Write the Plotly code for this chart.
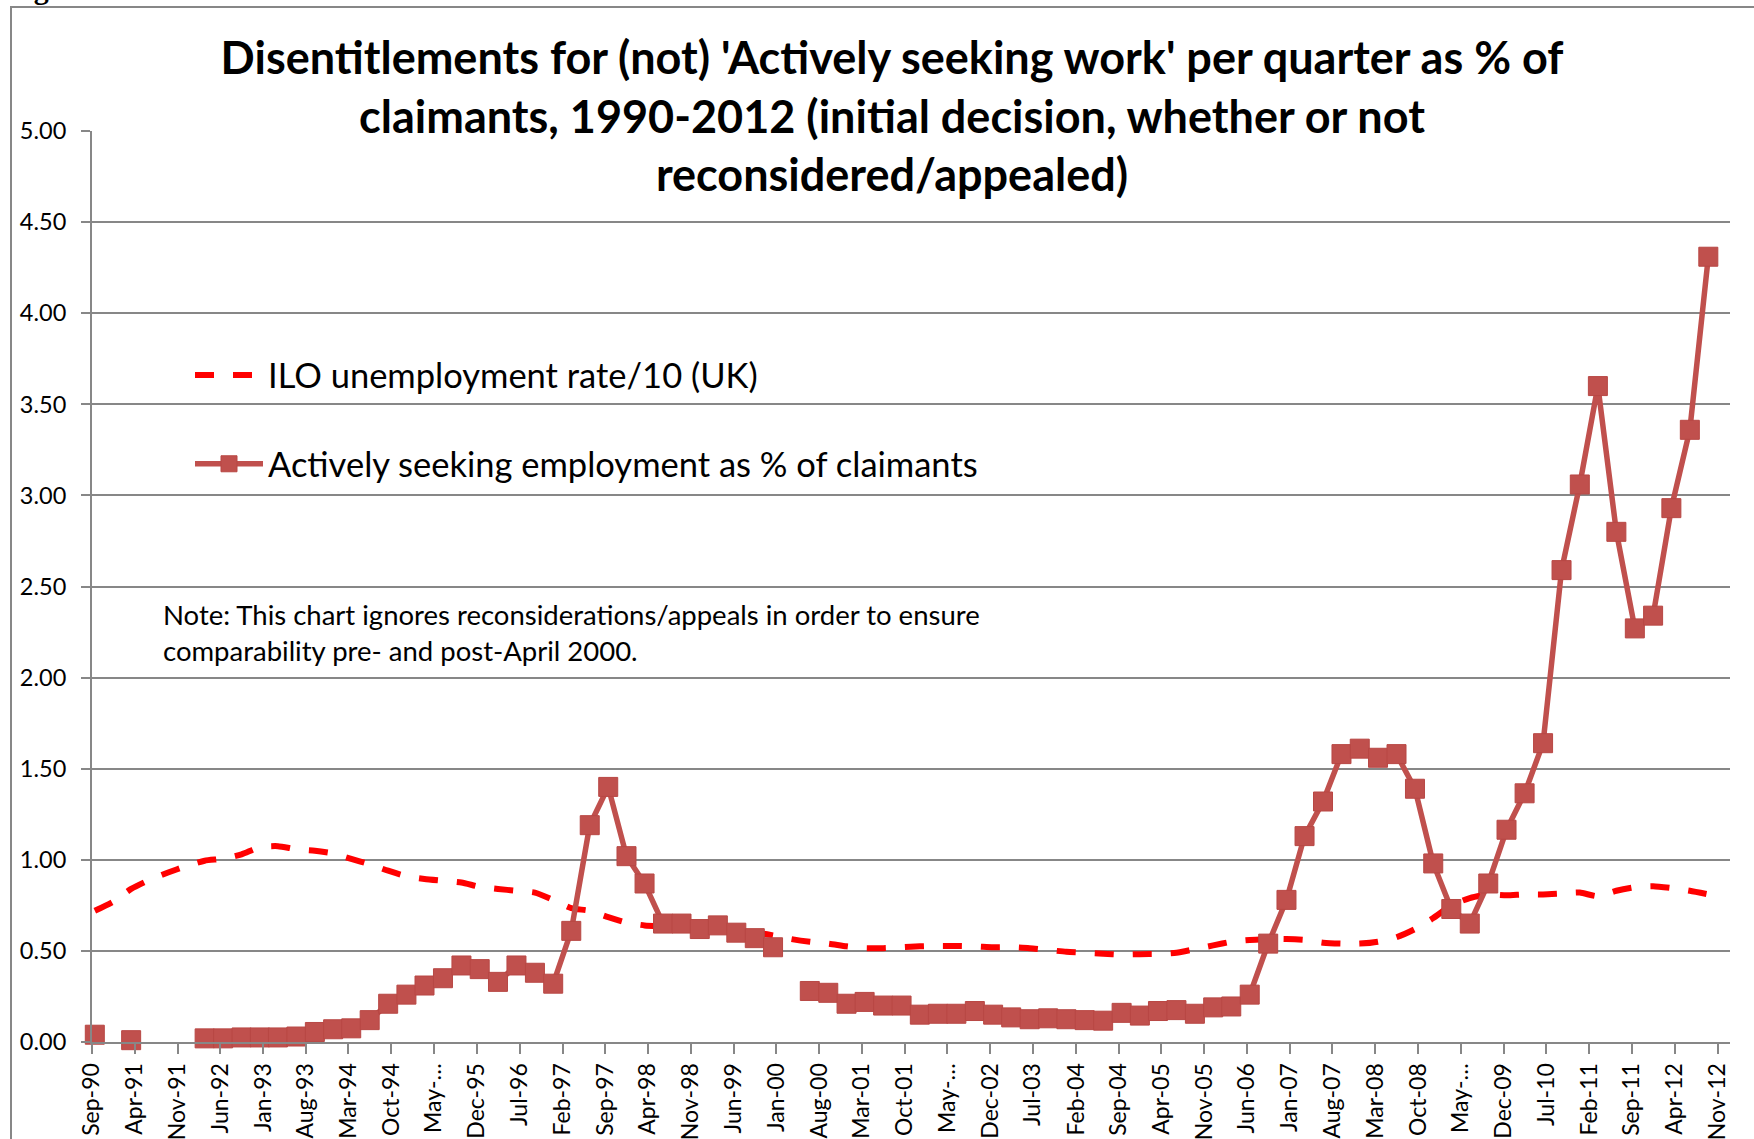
import plotly.graph_objects as go
import pandas as pd

# Quarterly observation months (Sep-1990 .. Sep-2012)
quarters = [
    "1990-09", "1990-12",
    "1991-03", "1991-06", "1991-09", "1991-12",
    "1992-03", "1992-06", "1992-09", "1992-12",
    "1993-03", "1993-06", "1993-09", "1993-12",
    "1994-03", "1994-06", "1994-09", "1994-12",
    "1995-03", "1995-06", "1995-09", "1995-12",
    "1996-03", "1996-06", "1996-09", "1996-12",
    "1997-03", "1997-06", "1997-09", "1997-12",
    "1998-03", "1998-06", "1998-09", "1998-12",
    "1999-03", "1999-06", "1999-09", "1999-12",
    "2000-03", "2000-06", "2000-09", "2000-12",
    "2001-03", "2001-06", "2001-09", "2001-12",
    "2002-03", "2002-06", "2002-09", "2002-12",
    "2003-03", "2003-06", "2003-09", "2003-12",
    "2004-03", "2004-06", "2004-09", "2004-12",
    "2005-03", "2005-06", "2005-09", "2005-12",
    "2006-03", "2006-06", "2006-09", "2006-12",
    "2007-03", "2007-06", "2007-09", "2007-12",
    "2008-03", "2008-06", "2008-09", "2008-12",
    "2009-03", "2009-06", "2009-09", "2009-12",
    "2010-03", "2010-06", "2010-09", "2010-12",
    "2011-03", "2011-06", "2011-09", "2011-12",
    "2012-03", "2012-06", "2012-09",
]

# Actively seeking employment disentitlements as % of claimants
actively_seeking = [
    0.04, None,
    0.01, None, None, None,
    0.02, 0.02, 0.025, 0.025,
    0.025, 0.03, 0.055, 0.07,
    0.075, 0.12, 0.21, 0.26,
    0.31, 0.35, 0.42, 0.40,
    0.33, 0.42, 0.38, 0.32,
    0.61, 1.19, 1.40, 1.02,
    0.87, 0.65, 0.65, 0.62,
    0.64, 0.60, 0.57, 0.52,
    None, 0.28, 0.27, 0.21,
    0.22, 0.20, 0.20, 0.15,
    0.155, 0.155, 0.17, 0.15,
    0.135, 0.125, 0.13, 0.125,
    0.12, 0.117, 0.16, 0.145,
    0.17, 0.175, 0.155, 0.19,
    0.195, 0.26, 0.54, 0.78,
    1.13, 1.32, 1.58, 1.61,
    1.56, 1.58, 1.39, 0.98,
    0.73, 0.65, 0.87, 1.165,
    1.365, 1.64, 2.59, 3.06,
    3.60, 2.80, 2.27, 2.34,
    2.93, 3.36, 4.31,
]

# ILO unemployment rate / 10 (UK)
ilo_rate_div10 = [
    0.72, 0.77,
    0.84, 0.89, 0.93, 0.966,
    0.995, 1.006, 1.03, 1.07,
    1.075, 1.058, 1.05, 1.035,
    1.005, 0.975, 0.94, 0.91,
    0.895, 0.885, 0.875, 0.852,
    0.84, 0.83, 0.82, 0.78,
    0.735, 0.72, 0.685, 0.655,
    0.64, 0.635, 0.63, 0.625,
    0.62, 0.61, 0.60, 0.585,
    0.565, 0.55, 0.54, 0.525,
    0.515, 0.515, 0.52, 0.525,
    0.527, 0.527, 0.525, 0.52,
    0.52, 0.515, 0.505, 0.495,
    0.49, 0.485, 0.48, 0.482,
    0.483, 0.49, 0.51, 0.53,
    0.55, 0.56, 0.565, 0.565,
    0.56, 0.545, 0.54, 0.54,
    0.55, 0.575, 0.62, 0.68,
    0.75, 0.79, 0.81, 0.805,
    0.81, 0.81, 0.815, 0.82,
    0.80, 0.83, 0.85, 0.855,
    0.845, 0.83, 0.81,
]

tick_dates = [
    "1990-09-01", "1991-04-01", "1991-11-01", "1992-06-01", "1993-01-01",
    "1993-08-01", "1994-03-01", "1994-10-01", "1995-05-01", "1995-12-01",
    "1996-07-01", "1997-02-01", "1997-09-01", "1998-04-01", "1998-11-01",
    "1999-06-01", "2000-01-01", "2000-08-01", "2001-03-01", "2001-10-01",
    "2002-05-01", "2002-12-01", "2003-07-01", "2004-02-01", "2004-09-01",
    "2005-04-01", "2005-11-01", "2006-06-01", "2007-01-01", "2007-08-01",
    "2008-03-01", "2008-10-01", "2009-05-01", "2009-12-01", "2010-07-01",
    "2011-02-01", "2011-09-01", "2012-04-01", "2012-11-01",
]
tick_labels = [
    "Sep-90", "Apr-91", "Nov-91", "Jun-92", "Jan-93",
    "Aug-93", "Mar-94", "Oct-94", "May-…", "Dec-95",
    "Jul-96", "Feb-97", "Sep-97", "Apr-98", "Nov-98",
    "Jun-99", "Jan-00", "Aug-00", "Mar-01", "Oct-01",
    "May-…", "Dec-02", "Jul-03", "Feb-04", "Sep-04",
    "Apr-05", "Nov-05", "Jun-06", "Jan-07", "Aug-07",
    "Mar-08", "Oct-08", "May-…", "Dec-09", "Jul-10",
    "Feb-11", "Sep-11", "Apr-12", "Nov-12",
]

assert len(quarters) == len(actively_seeking) == len(ilo_rate_div10)

# observations plotted mid-month
x_dates = pd.to_datetime(quarters, format="%Y-%m") + pd.Timedelta(days=14)

FONT = "Lato"
GRID = "#878787"
SERIES_RED = "#C0504D"

# plot-area geometry (pixels)
W, H = 1754, 1139
L, R, T, B = 92, 1730, 131, 1042
PW, PH = R - L, B - T


def px_x(px):
    return (px - L) / PW


def px_y(py):
    return (B - py) / PH


fig = go.Figure()

fig.add_trace(go.Scatter(
    x=x_dates, y=ilo_rate_div10, mode="lines",
    name="ILO unemployment rate/10 (UK)", legendgroup="ilo",
    line=dict(color="#FF0000", width=6, dash="19px,19px", shape="spline", smoothing=0.6),
))

fig.add_trace(go.Scatter(
    x=x_dates, y=actively_seeking, mode="lines+markers",
    name="Actively seeking employment as % of claimants", legendgroup="ase",
    line=dict(color=SERIES_RED, width=5.5),
    marker=dict(symbol="square", size=19, color=SERIES_RED,
                line=dict(color="#B84744", width=1)),
    connectgaps=False, cliponaxis=False,
))

fig.update_layout(
    width=W, height=H,
    margin=dict(l=L, r=W - R, t=T, b=H - B, autoexpand=False),
    paper_bgcolor="white", plot_bgcolor="white",
    font=dict(family=FONT, color="black"),
    title=dict(
        text="Disentitlements for (not) 'Actively seeking work' per quarter as % of<br>"
             "claimants, 1990-2012 (initial decision, whether or not<br>"
             "reconsidered/appealed)",
        font=dict(family=FONT, size=45, color="black", weight="bold"),
        x=892 / W, xanchor="center", xref="container",
        y=1 - 74 / H, yanchor="top", yref="container",
    ),
    showlegend=True,
    legend=dict(
        x=px_x(190), y=px_y(346), xanchor="left", yanchor="top",
        font=dict(family=FONT, size=34.5, color="black"),
        bgcolor="rgba(0,0,0,0)", itemwidth=68,
        tracegroupgap=41, traceorder="grouped",
    ),
    xaxis=dict(
        type="date", range=["1990-09-01", "2013-01-01"],
        tickmode="array", tickvals=tick_dates, ticktext=tick_labels,
        tickangle=-90, tickfont=dict(family=FONT, size=23, color="black"),
        ticks="outside", ticklen=10, tickwidth=2, tickcolor=GRID,
        showgrid=False, showline=True, linecolor=GRID, linewidth=2,
        zeroline=False, automargin=False,
    ),
    yaxis=dict(
        range=[0, 5], tickmode="linear", tick0=0, dtick=0.5, tickformat=".2f",
        tickfont=dict(family=FONT, size=23.5, color="black"),
        ticks="outside", ticklen=9, tickwidth=2, tickcolor=GRID,
        ticklabelstandoff=10,
        showgrid=True, gridcolor=GRID, gridwidth=2,
        showline=True, linecolor=GRID, linewidth=2,
        zeroline=False, automargin=False,
    ),
    shapes=[dict(
        type="rect", xref="paper", yref="paper", layer="below",
        x0=px_x(11), x1=px_x(W + 20), y0=px_y(7), y1=px_y(H + 20),
        line=dict(color=GRID, width=2), fillcolor="rgba(0,0,0,0)",
    )],
    annotations=[
        dict(
            text="Note: This chart ignores reconsiderations/appeals in order to ensure<br>"
                 "comparability pre- and post-April 2000.",
            xref="paper", yref="paper", x=px_x(161), y=px_y(632),
            xanchor="left", yanchor="middle", align="left", showarrow=False,
            font=dict(family=FONT, size=27.5, color="black"),
        ),
        dict(
            text="<b>Figure 3</b>",
            xref="paper", yref="paper", x=px_x(5), y=px_y(7),
            xanchor="left", yanchor="bottom", showarrow=False,
            font=dict(family="Liberation Serif", size=30, color="black"),
        ),
    ],
)

# place the figure at the page origin (no default body margin), no modebar
fig.write_html(
    "out.html",
    config={"displayModeBar": False},
    post_script="document.body.style.margin='0';",
)
